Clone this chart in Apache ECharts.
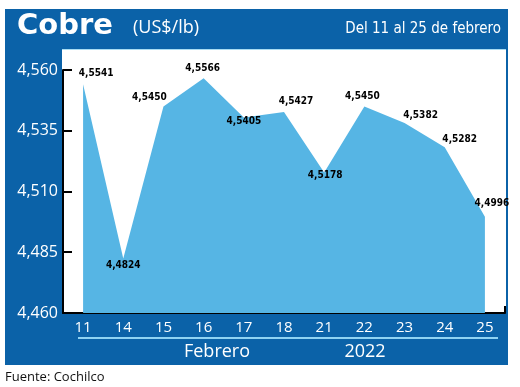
<!DOCTYPE html>
<html>
<head>
<meta charset="utf-8">
<script src="https://cdn.jsdelivr.net/npm/echarts@6/dist/echarts.min.js"></script>
<style>html,body{margin:0;padding:0;background:#fff}#c{width:520px;height:387px}</style>
</head>
<body>
<div id="c"></div>
<script>
const categories = ['11','14','15','16','17','18','21','22','23','24','25'];
const values = [4.5541, 4.4824, 4.5450, 4.5566, 4.5405, 4.5427, 4.5178, 4.5450, 4.5382, 4.5282, 4.4996];
const yTicks = [4.460, 4.485, 4.510, 4.535, 4.560];

const BLUE = '#0b62a8';
const AREA = '#56b5e4';

// label placement per point (style config, not data)
const labelPlace = [
  ['top', [13, 0]], ['bottom', [0, -4]], ['top', [-14, 1]], ['top', [-1, 1]],
  ['bottom', [0, -6]], ['top', [12, 0]], ['bottom', [1, -8]], ['top', [-2, 0]],
  ['top', [16, 3]], ['top', [15, 3]], ['top', [7, -3]]
];

const chart = echarts.init(document.getElementById('c'), null, {renderer: 'canvas'});
const fmtComma = (v, d) => v.toFixed(d).replace('.', ',');
const COND = '"Liberation Sans Narrow", "DejaVu Sans Condensed", sans-serif';

chart.setOption({
  backgroundColor: '#fff',
  animation: false,
  grid: {left: 63, right: 15, top: 70, bottom: 74, containLabel: false},
  graphic: [
    {type: 'rect', z: -10, silent: true, shape: {x: 5, y: 9, width: 503, height: 356}, style: {fill: BLUE}},
    {type: 'rect', z: -9, silent: true, shape: {x: 62, y: 49, width: 444, height: 264}, style: {fill: '#fff'}},
    {type: 'line', z: -8, silent: true, shape: {x1: 62, y1: 49.5, x2: 506, y2: 49.5}, style: {stroke: '#a8dcf2', lineWidth: 1}},
    {type: 'text', x: 17, y: 26, style: {text: 'Cobre', fill: '#fff', font: 'bold 29px "DejaVu Sans", sans-serif', textVerticalAlign: 'middle'}},
    {type: 'text', x: 133, y: 28, style: {text: '(US$/lb)', fill: '#fff', font: '18px "Open Sans", sans-serif', textVerticalAlign: 'middle'}},
    {type: 'text', x: 501, y: 29, style: {text: 'Del 11 al 25 de febrero', fill: '#fff', font: '15px ' + COND, textAlign: 'right', textVerticalAlign: 'middle'}},
    {type: 'line', silent: true, shape: {x1: 78, y1: 338, x2: 498, y2: 338}, style: {stroke: '#8fd3f3', lineWidth: 2}},
    {type: 'text', x: 217, y: 352, style: {text: 'Febrero', fill: '#fff', font: '18px "Open Sans", sans-serif', textAlign: 'center', textVerticalAlign: 'middle'}},
    {type: 'text', x: 365, y: 352, style: {text: '2022', fill: '#fff', font: '18px "Open Sans", sans-serif', textAlign: 'center', textVerticalAlign: 'middle'}},
    {type: 'text', x: 5, y: 377, style: {text: 'Fuente: Cochilco', fill: '#111', font: '13px "Open Sans", sans-serif', textVerticalAlign: 'middle'}}
  ],
  xAxis: {
    type: 'category',
    data: categories,
    boundaryGap: true,
    axisLine: {show: true, lineStyle: {color: '#000', width: 2}},
    axisTick: {show: true, inside: true, length: 7, lineStyle: {color: '#000', width: 2}, interval: (i) => i === categories.length - 1},
    axisLabel: {color: '#fff', fontSize: 15, fontFamily: 'Open Sans', margin: 7, interval: 0},
    splitLine: {show: false}
  },
  yAxis: {
    type: 'value',
    min: yTicks[0],
    max: yTicks[yTicks.length - 1],
    interval: 0.025,
    axisLine: {show: true, lineStyle: {color: '#000', width: 2}},
    axisTick: {show: true, inside: true, length: 9, lineStyle: {color: '#000', width: 2}},
    axisLabel: {color: '#fff', fontSize: 16, fontFamily: 'Open Sans', margin: 5, formatter: (v) => fmtComma(v, 3)},
    splitLine: {show: false}
  },
  series: [{
    type: 'line',
    data: values.map((v, i) => ({
      value: v,
      label: {position: labelPlace[i][0], offset: labelPlace[i][1]}
    })),
    symbol: 'circle',
    symbolSize: 1,
    itemStyle: {color: 'rgba(0,0,0,0)'},
    lineStyle: {width: 0, opacity: 0},
    areaStyle: {color: AREA, opacity: 1},
    label: {
      show: true,
      color: '#000',
      fontSize: 10,
      fontWeight: 'bold',
      fontFamily: COND,
      formatter: (p) => fmtComma(p.value, 4)
    },
    z: 1
  }]
});
</script>
</body>
</html>
